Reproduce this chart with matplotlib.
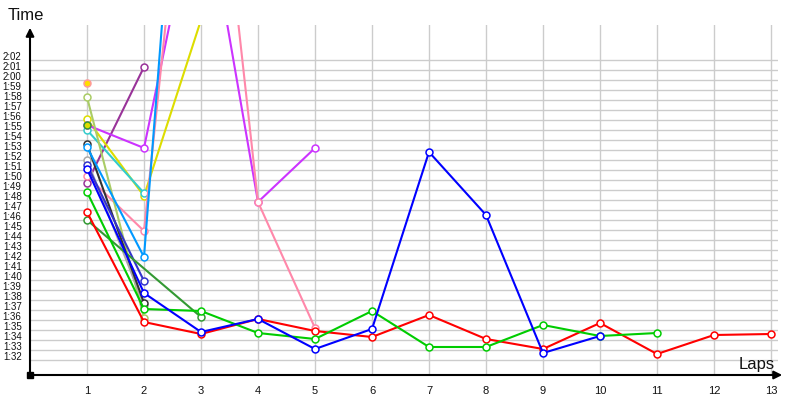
import matplotlib.pyplot as plt

# lap times in seconds, each list starts at lap 1
red = [106.8, 95.8, 94.6, 96.1, 94.9, 94.3, 96.5, 94.1, 93.1, 95.7, 92.6, 94.5, 94.6]
blue = [111.1, 98.7, 94.8, 96.1, 93.1, 95.1, 112.8, 106.5, 92.7, 94.4]
green = [108.8, 97.1, 96.9, 94.7, 94.1, 96.9, 93.3, 93.3, 95.5, 94.4, 94.7]
dark_green_laps = [1, 3]
dark_green = [106.0, 96.3]
light_blue = [113.3, 102.3, 176.0]
pink = [110.4, 104.9, 159.5, 107.8, 95.2]
magenta = [115.5, 113.2, 140.7, 107.8, 113.2]
purple = [109.7, 121.3]
yellow = [116.1, 108.4, 126.0]
olive = [118.3, 96.2]
teal = [115.0, 108.7]
black = [113.6, 97.7]
gray = [112.0, 97.5]
indigo = [111.5, 99.9]
orange_single = [119.7]
lime_single = [115.5]

lap_ticks = list(range(1, 14))
time_ticks = list(range(92, 123))

fig = plt.figure(figsize=(8, 4), dpi=100)
ax = fig.add_axes([30 / 800, 25 / 400, 748 / 800, 350 / 400])

ax.set_xlim(0, 748 / 57)
ax.set_ylim(90.5, 125.5)
for s in ax.spines.values():
    s.set_visible(False)

ax.set_xticks(lap_ticks)
ax.set_xticklabels([str(l) for l in lap_ticks], fontsize=8, family='Liberation Sans')
ax.set_yticks(time_ticks)
ax.set_yticklabels(['%d:%02d' % (t // 60, t % 60) for t in time_ticks],
                   fontsize=7, family='Liberation Sans', va='baseline')
ax.tick_params(length=0, labelcolor='#111111')
ax.tick_params(axis='x', pad=8)
ax.tick_params(axis='y', pad=6)
ax.grid(True, color='#cccccc', lw=1)
ax.set_axisbelow(True)


def draw(laps, vals, col):
    ax.plot(laps, vals, color=col, lw=1.5, marker='o', ms=5,
            mfc='white', mec=col, mew=1.1)


draw([1, 2], purple, '#993399')
draw(range(1, 4), yellow, '#dddd00')
draw([1, 2], teal, '#33cccc')
draw(range(1, 6), magenta, '#cc33ff')
draw(range(1, 6), pink, '#ff88aa')
draw([1, 2], olive, '#aacc66')
draw([1, 2], gray, '#aaaaaa')
draw([1, 2], black, '#333333')
draw(range(1, 4), light_blue, '#0099ff')
draw([1, 2], indigo, '#3333cc')
draw(dark_green_laps, dark_green, '#339933')
draw(range(1, len(red) + 1), red, '#ff0000')
draw(range(1, len(green) + 1), green, '#00cc00')
draw(range(1, len(blue) + 1), blue, '#0000ff')

ax.plot([1], orange_single, 'o', ms=5, mfc='#ffdd00', mec='#ff9999', mew=1.1)
ax.plot([1], lime_single, 'o', ms=5, mfc='#dddd00', mec='#339933', mew=1.1)

# axes arrows
ax.annotate('', xy=(0, 1.0), xytext=(0, 0), xycoords='axes fraction',
            arrowprops=dict(arrowstyle='-|>', color='black', lw=1.5, mutation_scale=12))
ax.annotate('', xy=(755 / 748, 0), xytext=(0, 0), xycoords='axes fraction',
            arrowprops=dict(arrowstyle='-|>', color='black', lw=1.5, mutation_scale=12))
ax.plot([0], [90.5], 's', color='black', ms=4, clip_on=False)

fig.text(8 / 800, 1 - 15 / 400, 'Time', fontsize=12, family='Liberation Sans',
         va='center', ha='left', color='#111111')
fig.text(775 / 800, 1 - 365 / 400, 'Laps', fontsize=12, family='Liberation Sans',
         va='center', ha='right', color='#111111')

fig.savefig('out.png', dpi=100)
